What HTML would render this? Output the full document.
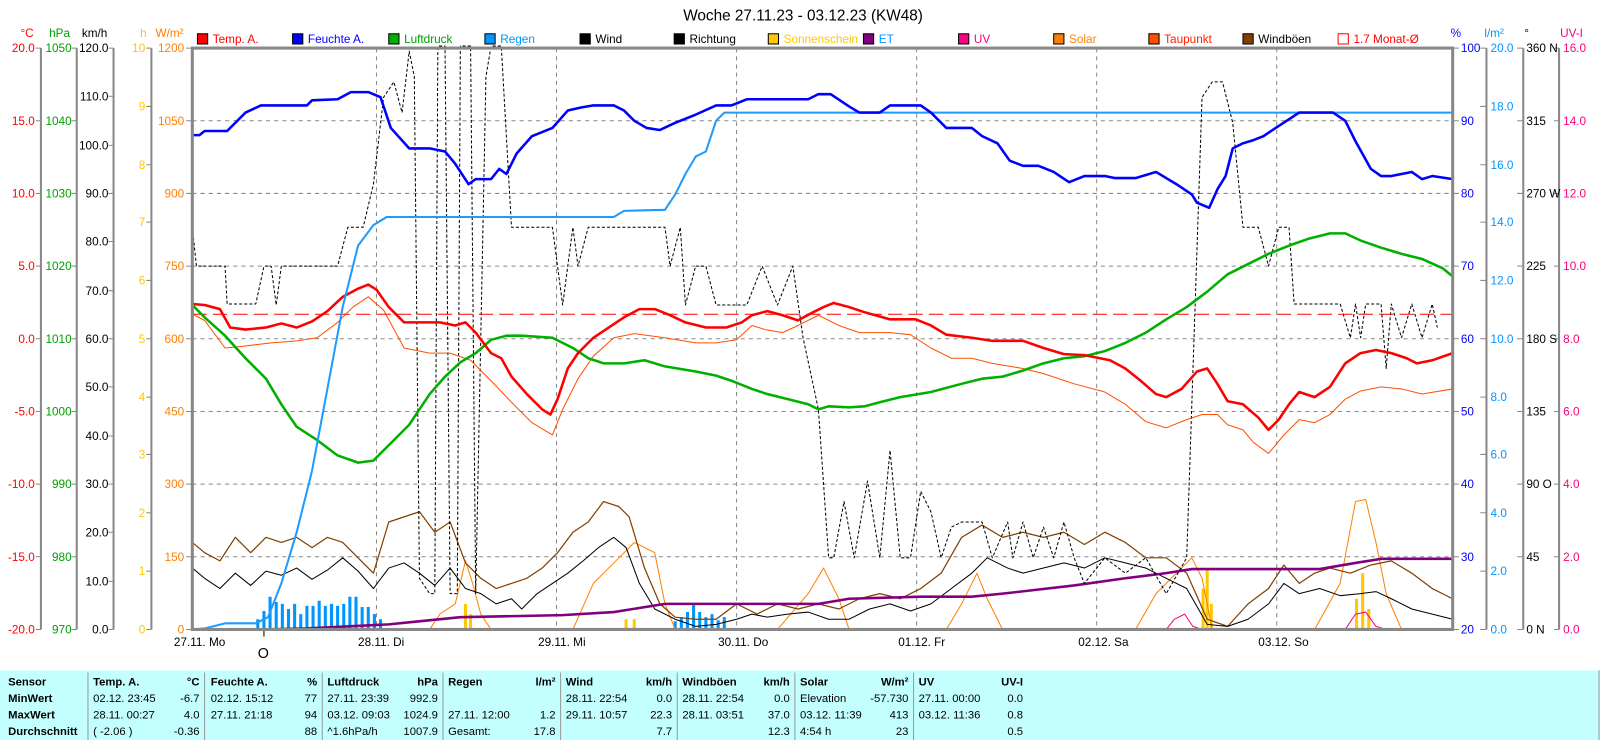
<!DOCTYPE html>
<html><head><meta charset="utf-8"><style>
html,body{margin:0;padding:0;background:#fff;}
svg{display:block;font-family:"Liberation Sans",sans-serif;}
</style></head><body>
<svg width="1600" height="740" viewBox="0 0 1564 723" preserveAspectRatio="none" xmlns="http://www.w3.org/2000/svg">
<rect width="1564" height="723" fill="#fff"/>
<text x="785" y="20" font-size="15" text-anchor="middle">Woche 27.11.23 - 03.12.23 (KW48)</text>
<g font-size="11.5">
<rect x="193" y="33" width="10" height="10" fill="#f00" stroke="#000"/><text x="208" y="42" fill="#f00">Temp. A.</text>
<rect x="286" y="33" width="10" height="10" fill="#00f" stroke="#000"/><text x="301" y="42" fill="#00f">Feuchte A.</text>
<rect x="380" y="33" width="10" height="10" fill="#00b000" stroke="#000"/><text x="395" y="42" fill="#00a000">Luftdruck</text>
<rect x="474" y="33" width="10" height="10" fill="#0096ff" stroke="#000"/><text x="489" y="42" fill="#0096ff">Regen</text>
<rect x="567" y="33" width="10" height="10" fill="#000" stroke="#000"/><text x="582" y="42">Wind</text>
<rect x="659" y="33" width="10" height="10" fill="#000" stroke="#000"/><text x="674" y="42">Richtung</text>
<rect x="751" y="33" width="10" height="10" fill="#ffc800" stroke="#000"/><text x="766" y="42" fill="#ffc800">Sonnenschein</text>
<rect x="844" y="33" width="10" height="10" fill="#800080" stroke="#000"/><text x="859" y="42" fill="#0096ff">ET</text>
<rect x="937" y="33" width="10" height="10" fill="#ff0080" stroke="#000"/><text x="952" y="42" fill="#ff0080">UV</text>
<rect x="1030" y="33" width="10" height="10" fill="#ff8000" stroke="#000"/><text x="1045" y="42" fill="#ff8000">Solar</text>
<rect x="1123" y="33" width="10" height="10" fill="#ff5000" stroke="#000"/><text x="1138" y="42" fill="#ff2000">Taupunkt</text>
<rect x="1215" y="33" width="10" height="10" fill="#804000" stroke="#000"/><text x="1230" y="42">Windböen</text>
<rect x="1308" y="33" width="10" height="10" fill="#fff" stroke="#f00"/><text x="1323" y="42" fill="#f00">1.7 Monat-Ø</text>
</g>
<!-- grid -->
<g stroke="#888" stroke-dasharray="4,4" stroke-width="1">
<line x1="188" y1="118" x2="1420" y2="118"/><line x1="188" y1="189" x2="1420" y2="189"/><line x1="188" y1="260" x2="1420" y2="260"/><line x1="188" y1="331" x2="1420" y2="331"/><line x1="188" y1="402" x2="1420" y2="402"/><line x1="188" y1="473" x2="1420" y2="473"/><line x1="188" y1="544" x2="1420" y2="544"/>
<line x1="368" y1="47" x2="368" y2="615"/><line x1="544" y1="47" x2="544" y2="615"/><line x1="720" y1="47" x2="720" y2="615"/><line x1="896" y1="47" x2="896" y2="615"/><line x1="1072" y1="47" x2="1072" y2="615"/><line x1="1248" y1="47" x2="1248" y2="615"/>
</g>
<!-- left axes -->
<g stroke="#888" stroke-width="2" fill="none">
<line x1="40" y1="47" x2="40" y2="615"/><line x1="75" y1="47" x2="75" y2="615"/><line x1="111" y1="47" x2="111" y2="615"/><line x1="148" y1="47" x2="148" y2="615"/>
<line x1="1453" y1="47" x2="1453" y2="615"/><line x1="1489" y1="47" x2="1489" y2="615"/><line x1="1524" y1="47" x2="1524" y2="615"/>
</g>
<g stroke="#888" stroke-width="1">
<path d="M35 47h5M35 118h5M35 189h5M35 260h5M35 331h5M35 402h5M35 473h5M35 544h5M35 615h5"/>
<path d="M70 47h5M70 118h5M70 189h5M70 260h5M70 331h5M70 402h5M70 473h5M70 544h5M70 615h5"/>
<path d="M106 47h5M106 94h5M106 142h5M106 189h5M106 236h5M106 284h5M106 331h5M106 378h5M106 426h5M106 473h5M106 520h5M106 568h5M106 615h5"/>
<path d="M143 47h5M143 104h5M143 161h5M143 217h5M143 274h5M143 331h5M143 388h5M143 444h5M143 501h5M143 558h5M143 615h5"/>
<path d="M182 47h6M182 118h6M182 189h6M182 260h6M182 331h6M182 402h6M182 473h6M182 544h6M182 615h6"/>
<path d="M1420 47h6M1420 118h6M1420 189h6M1420 260h6M1420 331h6M1420 402h6M1420 473h6M1420 544h6M1420 615h6"/>
<path d="M1447 47h6M1447 104h6M1447 161h6M1447 217h6M1447 274h6M1447 331h6M1447 388h6M1447 444h6M1447 501h6M1447 558h6M1447 615h6"/>
<path d="M1483 47h6M1483 118h6M1483 189h6M1483 260h6M1483 331h6M1483 402h6M1483 473h6M1483 544h6M1483 615h6"/>
<path d="M1519 47h5M1519 118h5M1519 189h5M1519 260h5M1519 331h5M1519 402h5M1519 473h5M1519 544h5M1519 615h5"/>
</g>
<g font-size="11.5">
<text x="20" y="36" fill="#f00">°C</text><text x="48" y="36" fill="#00a000">hPa</text><text x="80" y="36">km/h</text><text x="137" y="36" fill="#ffc800">h</text><text x="152" y="36" fill="#ff8000">W/m²</text>
<text x="1418" y="36" fill="#00f">%</text><text x="1451" y="36" fill="#0096ff">l/m²</text><text x="1490" y="36">°</text><text x="1525" y="36" fill="#ff0080">UV-I</text>
<g fill="#f00" text-anchor="end"><text x="34" y="51">20.0</text><text x="34" y="122">15.0</text><text x="34" y="193">10.0</text><text x="34" y="264">5.0</text><text x="34" y="335">0.0</text><text x="34" y="406">-5.0</text><text x="34" y="477">-10.0</text><text x="34" y="548">-15.0</text><text x="34" y="619">-20.0</text></g>
<g fill="#00a000" text-anchor="end"><text x="70" y="51">1050</text><text x="70" y="122">1040</text><text x="70" y="193">1030</text><text x="70" y="264">1020</text><text x="70" y="335">1010</text><text x="70" y="406">1000</text><text x="70" y="477">990</text><text x="70" y="548">980</text><text x="70" y="619">970</text></g>
<g text-anchor="end"><text x="106" y="51">120.0</text><text x="106" y="98">110.0</text><text x="106" y="146">100.0</text><text x="106" y="193">90.0</text><text x="106" y="240">80.0</text><text x="106" y="288">70.0</text><text x="106" y="335">60.0</text><text x="106" y="382">50.0</text><text x="106" y="430">40.0</text><text x="106" y="477">30.0</text><text x="106" y="524">20.0</text><text x="106" y="572">10.0</text><text x="106" y="619">0.0</text></g>
<g fill="#ffc800" text-anchor="end"><text x="142" y="51">10</text><text x="142" y="108">9</text><text x="142" y="165">8</text><text x="142" y="221">7</text><text x="142" y="278">6</text><text x="142" y="335">5</text><text x="142" y="392">4</text><text x="142" y="448">3</text><text x="142" y="505">2</text><text x="142" y="562">1</text><text x="142" y="619">0</text></g>
<g fill="#ff8000" text-anchor="end"><text x="180" y="51">1200</text><text x="180" y="122">1050</text><text x="180" y="193">900</text><text x="180" y="264">750</text><text x="180" y="335">600</text><text x="180" y="406">450</text><text x="180" y="477">300</text><text x="180" y="548">150</text><text x="180" y="619">0</text></g>
<g fill="#00f"><text x="1428" y="51">100</text><text x="1428" y="122">90</text><text x="1428" y="193">80</text><text x="1428" y="264">70</text><text x="1428" y="335">60</text><text x="1428" y="406">50</text><text x="1428" y="477">40</text><text x="1428" y="548">30</text><text x="1428" y="619">20</text></g>
<g fill="#0096ff"><text x="1457" y="51">20.0</text><text x="1457" y="108">18.0</text><text x="1457" y="165">16.0</text><text x="1457" y="221">14.0</text><text x="1457" y="278">12.0</text><text x="1457" y="335">10.0</text><text x="1457" y="392">8.0</text><text x="1457" y="448">6.0</text><text x="1457" y="505">4.0</text><text x="1457" y="562">2.0</text><text x="1457" y="619">0.0</text></g>
<g><text x="1492" y="51">360 N</text><text x="1492" y="122">315</text><text x="1492" y="193">270 W</text><text x="1492" y="264">225</text><text x="1492" y="335">180 S</text><text x="1492" y="406">135</text><text x="1492" y="477">90  O</text><text x="1492" y="548">45</text><text x="1492" y="619">0    N</text></g>
<g fill="#ff0080"><text x="1528" y="51">16.0</text><text x="1528" y="122">14.0</text><text x="1528" y="193">12.0</text><text x="1528" y="264">10.0</text><text x="1528" y="335">8.0</text><text x="1528" y="406">6.0</text><text x="1528" y="477">4.0</text><text x="1528" y="548">2.0</text><text x="1528" y="619">0.0</text></g>
<text x="170" y="631">27.11.  Mo</text><text x="350" y="631">28.11.  Di</text><text x="526" y="631">29.11.  Mi</text><text x="702" y="631">30.11.  Do</text><text x="878" y="631">01.12.  Fr</text><text x="1054" y="631">02.12.  Sa</text><text x="1230" y="631">03.12.  So</text>
<text x="252" y="631" font-size="14" y="632" dy="12">O</text>
</g>
<line x1="258" y1="615" x2="258" y2="622" stroke="#000"/>
<!-- series -->
<g fill="none" stroke-linejoin="round">
<!-- rain bars -->
<g stroke="#0096ff" stroke-width="3">
<path d="M252 615V605M258 615V597M264 615V583M270 615V588M276 615V590M282 615V595M288 615V590M294 615V600M300 615V592M306 615V592M312 615V587M318 615V592M324 615V590M330 615V592M336 615V590M342 615V583M348 615V583M354 615V593M360 615V593M366 615V600M372 615V605M660 615V607M666 615V603M672 615V598M678 615V590M684 615V598M690 615V603M696 615V600M702 615V606M708 615V603"/>
</g>
<!-- sunshine -->
<g stroke="#ffc800" stroke-width="3"><path d="M455 615V590M460 615V600M612 615V605M620 615V605M1176 615V575M1180 615V555M1184 615V590M1326 615V585M1332 615V560M1338 615V595"/></g>
<polyline stroke="#ff0080" stroke-width="1" points="1140,615 1148,605 1158,600 1166,612 1175,615 1315,615 1325,600 1335,598 1345,612 1355,615"/>
<polyline stroke="#ff8000" stroke-width="1" points="188,615 420,615 430,600 445,590 455,548 462,570 470,600 480,615 560,615 580,570 600,550 620,530 640,540 650,590 660,615 760,615 790,580 805,555 820,585 830,615 925,615 940,590 955,560 965,585 980,615 1110,615 1130,580 1150,560 1165,545 1175,565 1185,615 1285,615 1310,570 1325,490 1335,488 1345,530 1355,580 1370,615 1420,615"/>
<polyline stroke="#804000" stroke-width="1.2" points="188,530 200,540 215,548 230,525 245,540 260,525 275,530 290,525 305,535 320,525 335,530 350,545 365,560 380,510 395,505 410,500 425,520 440,510 455,550 470,565 485,575 500,570 515,565 530,555 545,540 560,520 575,510 590,490 605,495 615,505 630,555 645,590 660,603 680,605 700,605 720,590 740,600 760,590 780,595 800,590 820,595 840,585 860,580 880,585 900,575 920,560 940,525 960,513 980,525 1000,520 1020,525 1040,520 1060,532 1080,520 1100,530 1120,545 1140,545 1160,560 1180,605 1200,612 1220,590 1240,575 1255,552 1270,570 1285,560 1300,555 1320,560 1340,552 1360,548 1380,560 1400,575 1420,585"/>
<polyline stroke="#000" stroke-width="1" points="188,555 200,565 215,575 230,560 245,572 260,558 275,562 290,555 305,566 320,557 335,545 350,558 365,575 380,555 395,550 410,560 425,572 440,555 455,575 470,580 485,590 500,585 510,595 525,580 540,570 555,560 570,548 585,535 600,525 612,535 625,570 640,595 660,605 680,612 700,610 720,605 735,600 750,603 770,600 790,598 810,605 830,605 850,595 870,590 890,597 910,590 930,575 950,560 965,545 985,555 1000,560 1020,555 1040,550 1060,555 1080,545 1100,550 1120,555 1140,565 1160,575 1180,610 1200,612 1220,605 1240,590 1255,570 1270,580 1290,575 1310,582 1330,580 1345,578 1360,585 1380,595 1400,600 1420,605"/>
<polyline stroke="#800080" stroke-width="2.5" points="188,615 260,615 300,614 380,610 400,608 450,603 550,601 600,598 650,590 700,590 800,590 830,585 900,583 950,583 980,580 1050,572 1100,565 1140,560 1165,556 1290,556 1325,550 1350,546 1420,546"/>
<polyline stroke="#000" stroke-width="1" stroke-dasharray="3,2" points="188,222 192,260 220,260 222,297 250,297 258,260 265,260 270,298 275,260 330,260 340,222 355,222 365,180 375,95 385,80 393,110 400,50 405,75 410,565 420,580 425,580 428,45 435,45 440,580 447,580 450,45 460,45 465,580 475,75 480,45 490,45 500,222 540,222 550,298 560,222 565,260 575,222 650,222 655,260 665,222 670,298 680,260 690,260 700,298 730,298 745,260 760,298 775,260 785,330 800,400 810,545 815,545 825,490 835,545 848,470 860,545 870,440 880,545 890,545 900,480 910,500 920,545 930,515 940,510 960,510 970,545 985,510 990,545 1000,510 1010,545 1020,515 1030,545 1040,510 1050,545 1060,570 1080,545 1100,560 1120,545 1140,580 1160,545 1175,95 1185,80 1195,80 1205,120 1215,222 1230,222 1240,260 1250,222 1260,222 1265,297 1310,297 1320,330 1325,297 1330,330 1335,297 1350,297 1355,360 1360,297 1370,330 1380,297 1390,330 1400,297 1405,320"/>
<polyline stroke="#ff5000" stroke-width="1" points="188,307 200,313 220,340 240,338 265,335 290,333 310,330 330,315 345,300 360,290 375,303 395,340 420,345 440,345 460,352 480,372 500,393 520,413 540,425 550,400 565,370 580,348 600,330 620,326 650,330 680,335 700,335 720,332 735,318 748,322 765,325 780,318 800,308 820,318 840,325 870,325 890,327 910,340 930,350 950,350 970,355 1000,360 1020,365 1050,375 1080,383 1100,395 1120,412 1140,418 1160,410 1175,405 1190,405 1200,415 1215,420 1225,432 1240,443 1255,425 1270,410 1285,413 1300,405 1315,390 1330,382 1350,378 1370,380 1390,385 1420,380"/>
<line x1="188" y1="307" x2="1420" y2="307" stroke="#f00" stroke-width="1" stroke-dasharray="14,6"/>
<polyline stroke="#00b000" stroke-width="2.5" points="188,298 200,310 220,328 240,350 260,370 275,395 290,417 310,430 330,445 350,452 365,450 380,435 400,415 420,385 435,368 450,354 465,345 480,332 495,328 510,328 540,330 560,340 575,350 590,355 610,355 630,352 650,358 680,363 700,367 715,372 735,380 750,385 770,390 790,395 800,400 810,397 830,398 845,397 860,393 880,388 910,383 940,375 960,370 980,368 1000,362 1020,355 1040,350 1060,348 1080,343 1100,335 1120,325 1140,312 1160,300 1180,285 1200,268 1220,258 1240,248 1260,240 1280,233 1300,228 1315,228 1330,235 1350,242 1370,248 1390,253 1410,262 1420,270"/>
<polyline stroke="#f00" stroke-width="2.5" points="188,297 200,298 215,302 225,320 240,322 260,320 275,316 290,320 305,314 320,304 335,290 350,282 360,278 368,283 380,300 395,315 415,315 430,315 445,318 455,315 465,325 480,345 490,350 500,368 515,385 530,400 538,405 545,390 555,360 565,345 580,330 595,320 610,310 625,302 640,302 655,308 670,315 690,320 710,320 725,315 735,308 750,304 765,308 780,313 795,305 805,300 815,296 830,300 845,305 870,312 895,312 910,318 925,327 950,330 970,333 1000,333 1020,340 1040,346 1060,347 1085,352 1100,360 1115,372 1130,385 1140,388 1155,380 1170,363 1180,360 1190,375 1200,392 1215,395 1230,408 1240,420 1250,410 1260,395 1270,383 1285,388 1300,378 1315,355 1330,345 1345,342 1360,345 1375,350 1385,355 1400,352 1420,345"/>
<polyline stroke="#1e9bff" stroke-width="2" points="188,615 200,614 220,609 250,609 262,603 275,570 290,520 305,460 320,380 335,300 350,240 365,220 378,212 390,212 600,212 610,206 650,205 660,190 670,170 680,153 690,148 700,118 708,110 1420,110"/>
<polyline stroke="#00f" stroke-width="2.5" points="188,132 195,132 200,128 210,128 222,128 240,110 255,103 300,103 305,98 330,97 343,90 360,90 372,95 382,125 400,145 420,145 435,148 445,160 458,180 465,175 480,175 488,165 495,170 505,150 520,133 540,125 555,108 568,105 580,103 600,103 610,108 620,118 632,125 645,127 660,120 680,112 700,103 715,103 730,97 760,97 790,97 800,92 812,92 830,104 840,110 860,110 870,103 900,103 910,110 925,125 950,125 960,133 975,140 987,157 1000,162 1015,162 1030,168 1045,178 1060,172 1080,172 1090,174 1110,174 1130,168 1150,180 1165,190 1170,198 1182,203 1190,185 1198,172 1205,145 1215,140 1225,137 1235,133 1250,123 1270,110 1303,110 1315,118 1325,138 1340,165 1350,172 1360,172 1370,170 1380,168 1390,175 1400,172 1420,175"/>
</g>
<rect x="188" y="47" width="1232" height="568" fill="none" stroke="#888" stroke-width="3"/>
<!-- table -->
<rect x="0" y="655" width="1564" height="68" fill="#c4ffff"/>
<g stroke="#999" stroke-width="1">
<path d="M86 657V723M200 657V723M315 657V723M433 657V723M548 657V723M662 657V723M777 657V723M893 657V723M1563 655V723"/>
</g>
<g font-size="11" font-family="Liberation Sans Narrow, Liberation Sans, sans-serif">
<g font-weight="bold"><text x="8" y="670">Sensor</text><text x="8" y="686">MinWert</text><text x="8" y="702">MaxWert</text><text x="8" y="718">Durchschnitt</text>
<text x="91" y="670">Temp. A.</text><text x="206" y="670">Feuchte A.</text><text x="320" y="670">Luftdruck</text><text x="438" y="670">Regen</text><text x="553" y="670">Wind</text><text x="667" y="670">Windböen</text><text x="782" y="670">Solar</text><text x="898" y="670">UV</text>
<g text-anchor="end"><text x="195" y="670">°C</text><text x="310" y="670">%</text><text x="428" y="670">hPa</text><text x="543" y="670">l/m²</text><text x="657" y="670">km/h</text><text x="772" y="670">km/h</text><text x="888" y="670">W/m²</text><text x="1000" y="670">UV-I</text></g></g>
<text x="91" y="686">02.12.  23:45</text><text x="91" y="702">28.11.  00:27</text><text x="91" y="718">( -2.06 )</text>
<text x="206" y="686">02.12.  15:12</text><text x="206" y="702">27.11.  21:18</text>
<text x="320" y="686">27.11.  23:39</text><text x="320" y="702">03.12.  09:03</text><text x="320" y="718">^1.6hPa/h</text>
<text x="438" y="702">27.11.  12:00</text><text x="438" y="718">Gesamt:</text>
<text x="553" y="686">28.11.  22:54</text><text x="553" y="702">29.11.  10:57</text>
<text x="667" y="686">28.11.  22:54</text><text x="667" y="702">28.11.  03:51</text>
<text x="782" y="686">Elevation</text><text x="782" y="702">03.12.  11:39</text><text x="782" y="718">4:54 h</text>
<text x="898" y="686">27.11.  00:00</text><text x="898" y="702">03.12.  11:36</text>
<g text-anchor="end">
<text x="195" y="686">-6.7</text><text x="195" y="702">4.0</text><text x="195" y="718">-0.36</text>
<text x="310" y="686">77</text><text x="310" y="702">94</text><text x="310" y="718">88</text>
<text x="428" y="686">992.9</text><text x="428" y="702">1024.9</text><text x="428" y="718">1007.9</text>
<text x="543" y="702">1.2</text><text x="543" y="718">17.8</text>
<text x="657" y="686">0.0</text><text x="657" y="702">22.3</text><text x="657" y="718">7.7</text>
<text x="772" y="686">0.0</text><text x="772" y="702">37.0</text><text x="772" y="718">12.3</text>
<text x="888" y="686">-57.730</text><text x="888" y="702">413</text><text x="888" y="718">23</text>
<text x="1000" y="686">0.0</text><text x="1000" y="702">0.8</text><text x="1000" y="718">0.5</text>
</g></g>
</svg>
</body></html>
